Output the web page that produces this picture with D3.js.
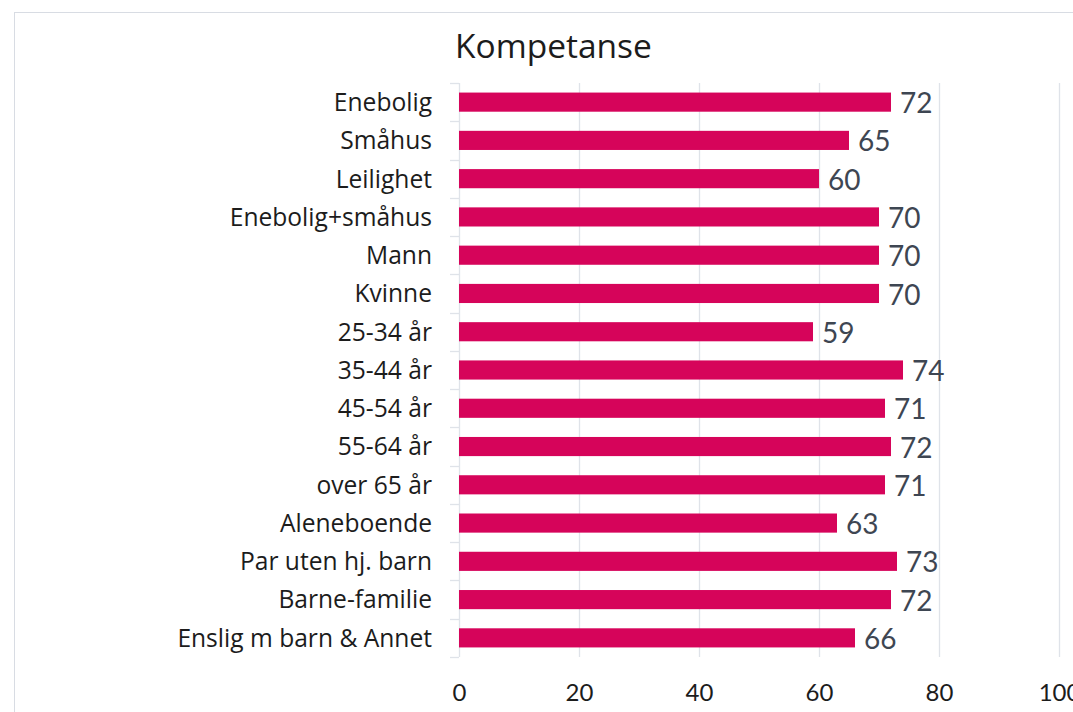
<!DOCTYPE html>
<html>
<head>
<meta charset="utf-8">
<script src="https://cdn.jsdelivr.net/npm/d3@7"></script>
<style>
  html, body { margin: 0; padding: 0; background: #fff; }
  svg { display: block; }
</style>
</head>
<body>
<svg id="chart" width="1073" height="712"></svg>
<script>
// Kompetanse – score per group (0–100)
const categories = [
  "Enebolig", "Småhus", "Leilighet", "Enebolig+småhus", "Mann", "Kvinne",
  "25-34 år", "35-44 år", "45-54 år", "55-64 år", "over 65 år",
  "Aleneboende", "Par uten hj. barn", "Barne-familie", "Enslig m barn & Annet"
];
const values = [72, 65, 60, 70, 70, 70, 59, 74, 71, 72, 71, 63, 73, 72, 66];
const xTicks = [0, 20, 40, 60, 80, 100];
const title = "Kompetanse";

const svg = d3.select("#chart");
const font = "Lato, 'Open Sans', sans-serif";
const labelFont = "'Open Sans', Lato, sans-serif";
const gridColor = "#dfe3e9";

// outer frame
svg.append("rect")
  .attr("x", 14.5).attr("y", 12.5)
  .attr("width", 1200).attr("height", 800)
  .attr("fill", "none").attr("stroke", "#d8dce3").attr("stroke-width", 1);

const plot = { left: 459, right: 1059, top: 83, bottom: 657 };

const x = d3.scaleLinear().domain([0, 100]).range([plot.left, plot.right]);
const y = d3.scaleBand().domain(categories).range([plot.top, plot.bottom])
  .paddingInner(0.5).paddingOuter(0.25);

// vertical gridlines
svg.append("g")
  .selectAll("line")
  .data(xTicks.slice(1))
  .join("line")
  .attr("x1", d => Math.round(x(d)) + 0.5).attr("x2", d => Math.round(x(d)) + 0.5)
  .attr("y1", plot.top).attr("y2", plot.bottom)
  .attr("stroke", gridColor).attr("stroke-width", 1.3);

// category axis: line plus outward ticks on the band boundaries
const boundaries = categories.map((c, i) => plot.top + i * y.step()).concat([plot.bottom]);
const yAxis = svg.append("g");
yAxis.append("line")
  .attr("x1", plot.left + 0.5).attr("x2", plot.left + 0.5)
  .attr("y1", plot.top).attr("y2", plot.bottom)
  .attr("stroke", gridColor).attr("stroke-width", 1.3);
yAxis.selectAll("line.tick")
  .data(boundaries)
  .join("line")
  .attr("class", "tick")
  .attr("x1", plot.left - 9).attr("x2", plot.left)
  .attr("y1", d => Math.round(d) + 0.5).attr("y2", d => Math.round(d) + 0.5)
  .attr("stroke", gridColor).attr("stroke-width", 1.3);

// category labels
svg.append("g")
  .selectAll("text")
  .data(categories)
  .join("text")
  .attr("x", 432)
  .attr("y", d => y(d) + y.bandwidth() / 2)
  .attr("dy", "0.36em")
  .attr("text-anchor", "end")
  .attr("font-family", labelFont)
  .attr("font-size", 24.6)
  .attr("fill", "#1c1c1c")
  .text(d => d);

// bars
svg.append("g")
  .selectAll("rect")
  .data(values)
  .join("rect")
  .attr("x", x(0))
  .attr("y", (d, i) => y(categories[i]))
  .attr("width", d => x(d) - x(0))
  .attr("height", y.bandwidth())
  .attr("fill", "#d6045a");

// value labels
svg.append("g")
  .selectAll("text")
  .data(values)
  .join("text")
  .attr("x", d => x(d) + 9)
  .attr("y", (d, i) => y(categories[i]) + y.bandwidth() / 2 + 1)
  .attr("dy", "0.36em")
  .attr("font-family", font)
  .attr("font-size", 28)
  .attr("fill", "#3e4652")
  .text(d => d);

// value axis labels
const xAxis = d3.axisBottom(x).tickValues(xTicks).tickSize(0).tickPadding(0);
const gx = svg.append("g")
  .attr("transform", `translate(0, ${plot.bottom + 27})`)
  .call(xAxis);
gx.select(".domain").remove();
gx.selectAll("text")
  .attr("font-family", font)
  .attr("font-size", 24)
  .attr("fill", "#1c1c1c");

// title
svg.append("text")
  .attr("x", 455)
  .attr("y", 58)
  .attr("font-family", labelFont)
  .attr("font-size", 33.5)
  .attr("fill", "#1c1c1c")
  .text(title);
</script>
</body>
</html>
